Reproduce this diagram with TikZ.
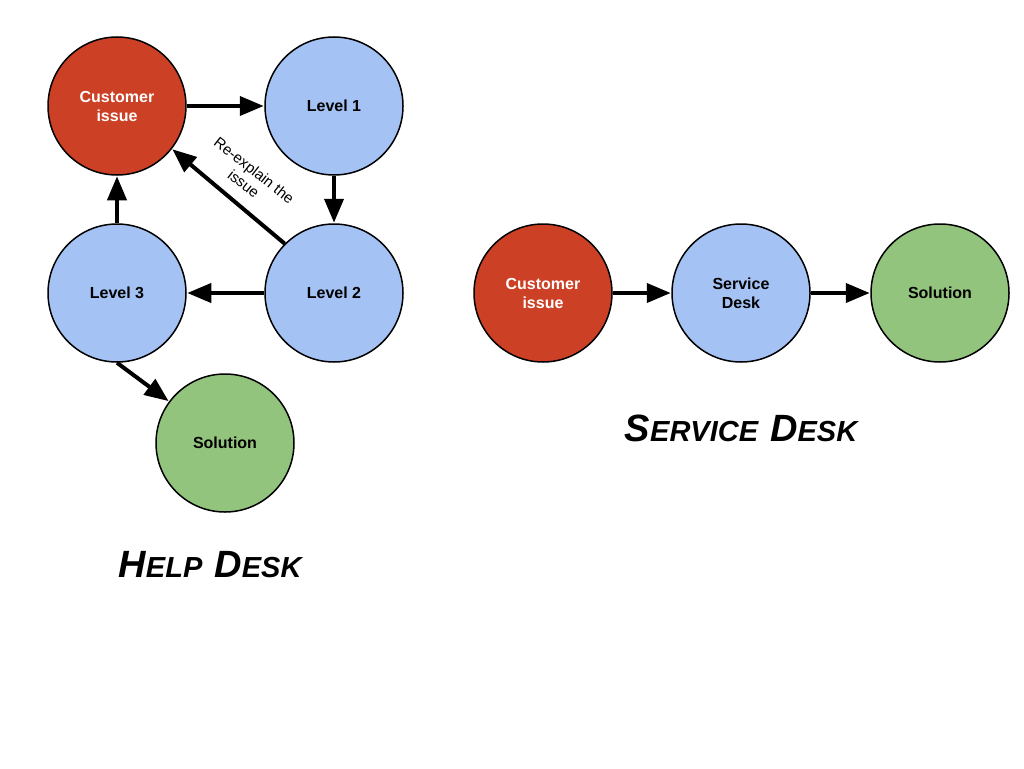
\documentclass[tikz,border=0pt]{standalone}
\usepackage{fontspec}
\setmainfont{Liberation Sans}
\usetikzlibrary{arrows.meta}
\definecolor{cred}{HTML}{CC4125}
\definecolor{cblue}{HTML}{A4C2F4}
\definecolor{cgreen}{HTML}{93C47D}
\tikzset{
  bub/.style={circle, draw=black, line width=1.5pt, minimum size=138pt, inner sep=0pt,
    align=center, font=\fontsize{16}{19}\selectfont\bfseries},
  redbub/.style={bub, fill=cred, text=white},
  bluebub/.style={bub, fill=cblue},
  greenbub/.style={bub, fill=cgreen},
  arr/.style={line width=4pt, -{Triangle[length=24pt,width=19pt]}, shorten >=0.5pt},
  ttl/.style={font=\bfseries\itshape},
}
\newcommand{\scap}[2]{{\fontsize{38}{38}\selectfont #1}{\fontsize{29}{29}\selectfont #2}}
\begin{document}
\begin{tikzpicture}[x=1pt,y=-1pt]
\useasboundingbox[fill=white] (0,0) rectangle (1024,768);
\node[redbub] (ci) at (117,106) {Customer\\issue};
\node[bluebub] (l1) at (334,106) {Level 1};
\node[bluebub] (l2) at (334,293) {Level 2};
\node[bluebub] (l3) at (117,293) {Level 3};
\node[greenbub] (so) at (225,443) {Solution};
\node[redbub] (ci2) at (543,293) {Customer\\issue};
\node[bluebub] (sd) at (741,293) {Service\\Desk};
\node[greenbub] (so2) at (940,293) {Solution};
\draw[arr] (ci) -- (l1);
\draw[arr] (l1) -- (l2);
\draw[arr] (l2) -- (l3);
\draw[arr] (l3) -- (ci);
\draw[arr] (l2.135) -- (ci.-38);
\draw[arr] (l3.south) -- (so);
\draw[arr] (ci2) -- (sd);
\draw[arr] (sd) -- (so2);
\node[rotate=-38, align=center, font=\fontsize{15}{17}\selectfont] (lab) at (249,177) {Re-explain the\\issue};
\node[ttl] (t1) at (210,565) {\scap{H}{ELP}\hspace{12pt}\scap{D}{ESK}};
\node[ttl] (t2) at (741,428) {\scap{S}{ERVICE}\hspace{12pt}\scap{D}{ESK}};
\end{tikzpicture}
\end{document}
